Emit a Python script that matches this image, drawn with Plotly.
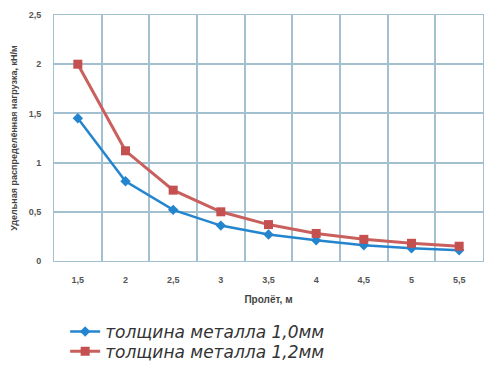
import plotly.graph_objects as go

spans = ['1,5', '2', '2,5', '3', '3,5', '4', '4,5', '5', '5,5']
load_10mm = [1.45, 0.81, 0.52, 0.36, 0.27, 0.21, 0.16, 0.13, 0.11]
load_12mm = [2.0, 1.12, 0.72, 0.5, 0.37, 0.28, 0.22, 0.18, 0.15]

fig = go.Figure()

fig.add_trace(go.Scatter(
    x=spans,
    y=load_10mm,
    name='толщина металла 1,0мм',
    mode='lines+markers',
    line=dict(color='#2485cf', width=2.5),
    marker=dict(symbol='diamond', size=8, color='#2485cf'),
    showlegend=True,
    legend='legend',
))

fig.add_trace(go.Scatter(
    x=spans,
    y=load_12mm,
    name='толщина металла 1,2мм',
    mode='lines+markers',
    line=dict(color='#c9605e', width=3),
    marker=dict(symbol='square', size=9, color='#c4504f'),
    showlegend=True,
    legend='legend2',
))

grid = '#a3c0d0'
tickfont = dict(family='Arial, Liberation Sans', size=9, color='#555555', weight='bold')
legfont = dict(family='DejaVu Sans', size=17, color='#333333', style='italic')

fig.update_layout(
    width=485,
    height=367,
    showlegend=True,
    paper_bgcolor='white',
    plot_bgcolor='white',
    separators=', ',
    dragmode=False,
    margin=dict(l=54, r=2, t=15, b=106, autoexpand=False),
    xaxis=dict(
        type='category',
        tickson='boundaries',
        range=[-0.5, 8.5],
        automargin=False,
        showgrid=True,
        gridcolor=grid,
        gridwidth=1.5,
        showline=True,
        linecolor=grid,
        mirror=True,
        ticks='',
        ticklabelstandoff=10,
        tickfont=tickfont,
        title=dict(
            text='Пролёт, м',
            font=dict(family='Arial, Liberation Sans', size=10, color='#444444', weight='bold'),
            standoff=12,
        ),
    ),
    yaxis=dict(
        range=[0, 2.5],
        dtick=0.5,
        automargin=False,
        showgrid=True,
        gridcolor=grid,
        gridwidth=1.5,
        zeroline=False,
        showline=True,
        linecolor=grid,
        mirror=True,
        ticks='',
        ticklabelstandoff=10,
        tickfont=tickfont,
        title=dict(
            text='Удельная распределённая нагрузка, кН/м',
            font=dict(family='Arial, Liberation Sans', size=9, color='#444444', weight='bold'),
            standoff=9,
        ),
    ),
    legend=dict(
        visible=True,
        x=0.026,
        y=-0.215,
        xanchor='left',
        yanchor='top',
        bgcolor='rgba(0,0,0,0)',
        font=legfont,
    ),
    legend2=dict(
        visible=True,
        x=0.026,
        y=-0.296,
        xanchor='left',
        yanchor='top',
        bgcolor='rgba(0,0,0,0)',
        font=legfont,
    ),
)

# page body has a default margin, drop it so the figure sits at the window corner
fig.write_html('out.html', config={'displayModeBar': False},
               post_script="document.body.style.margin='0';")
